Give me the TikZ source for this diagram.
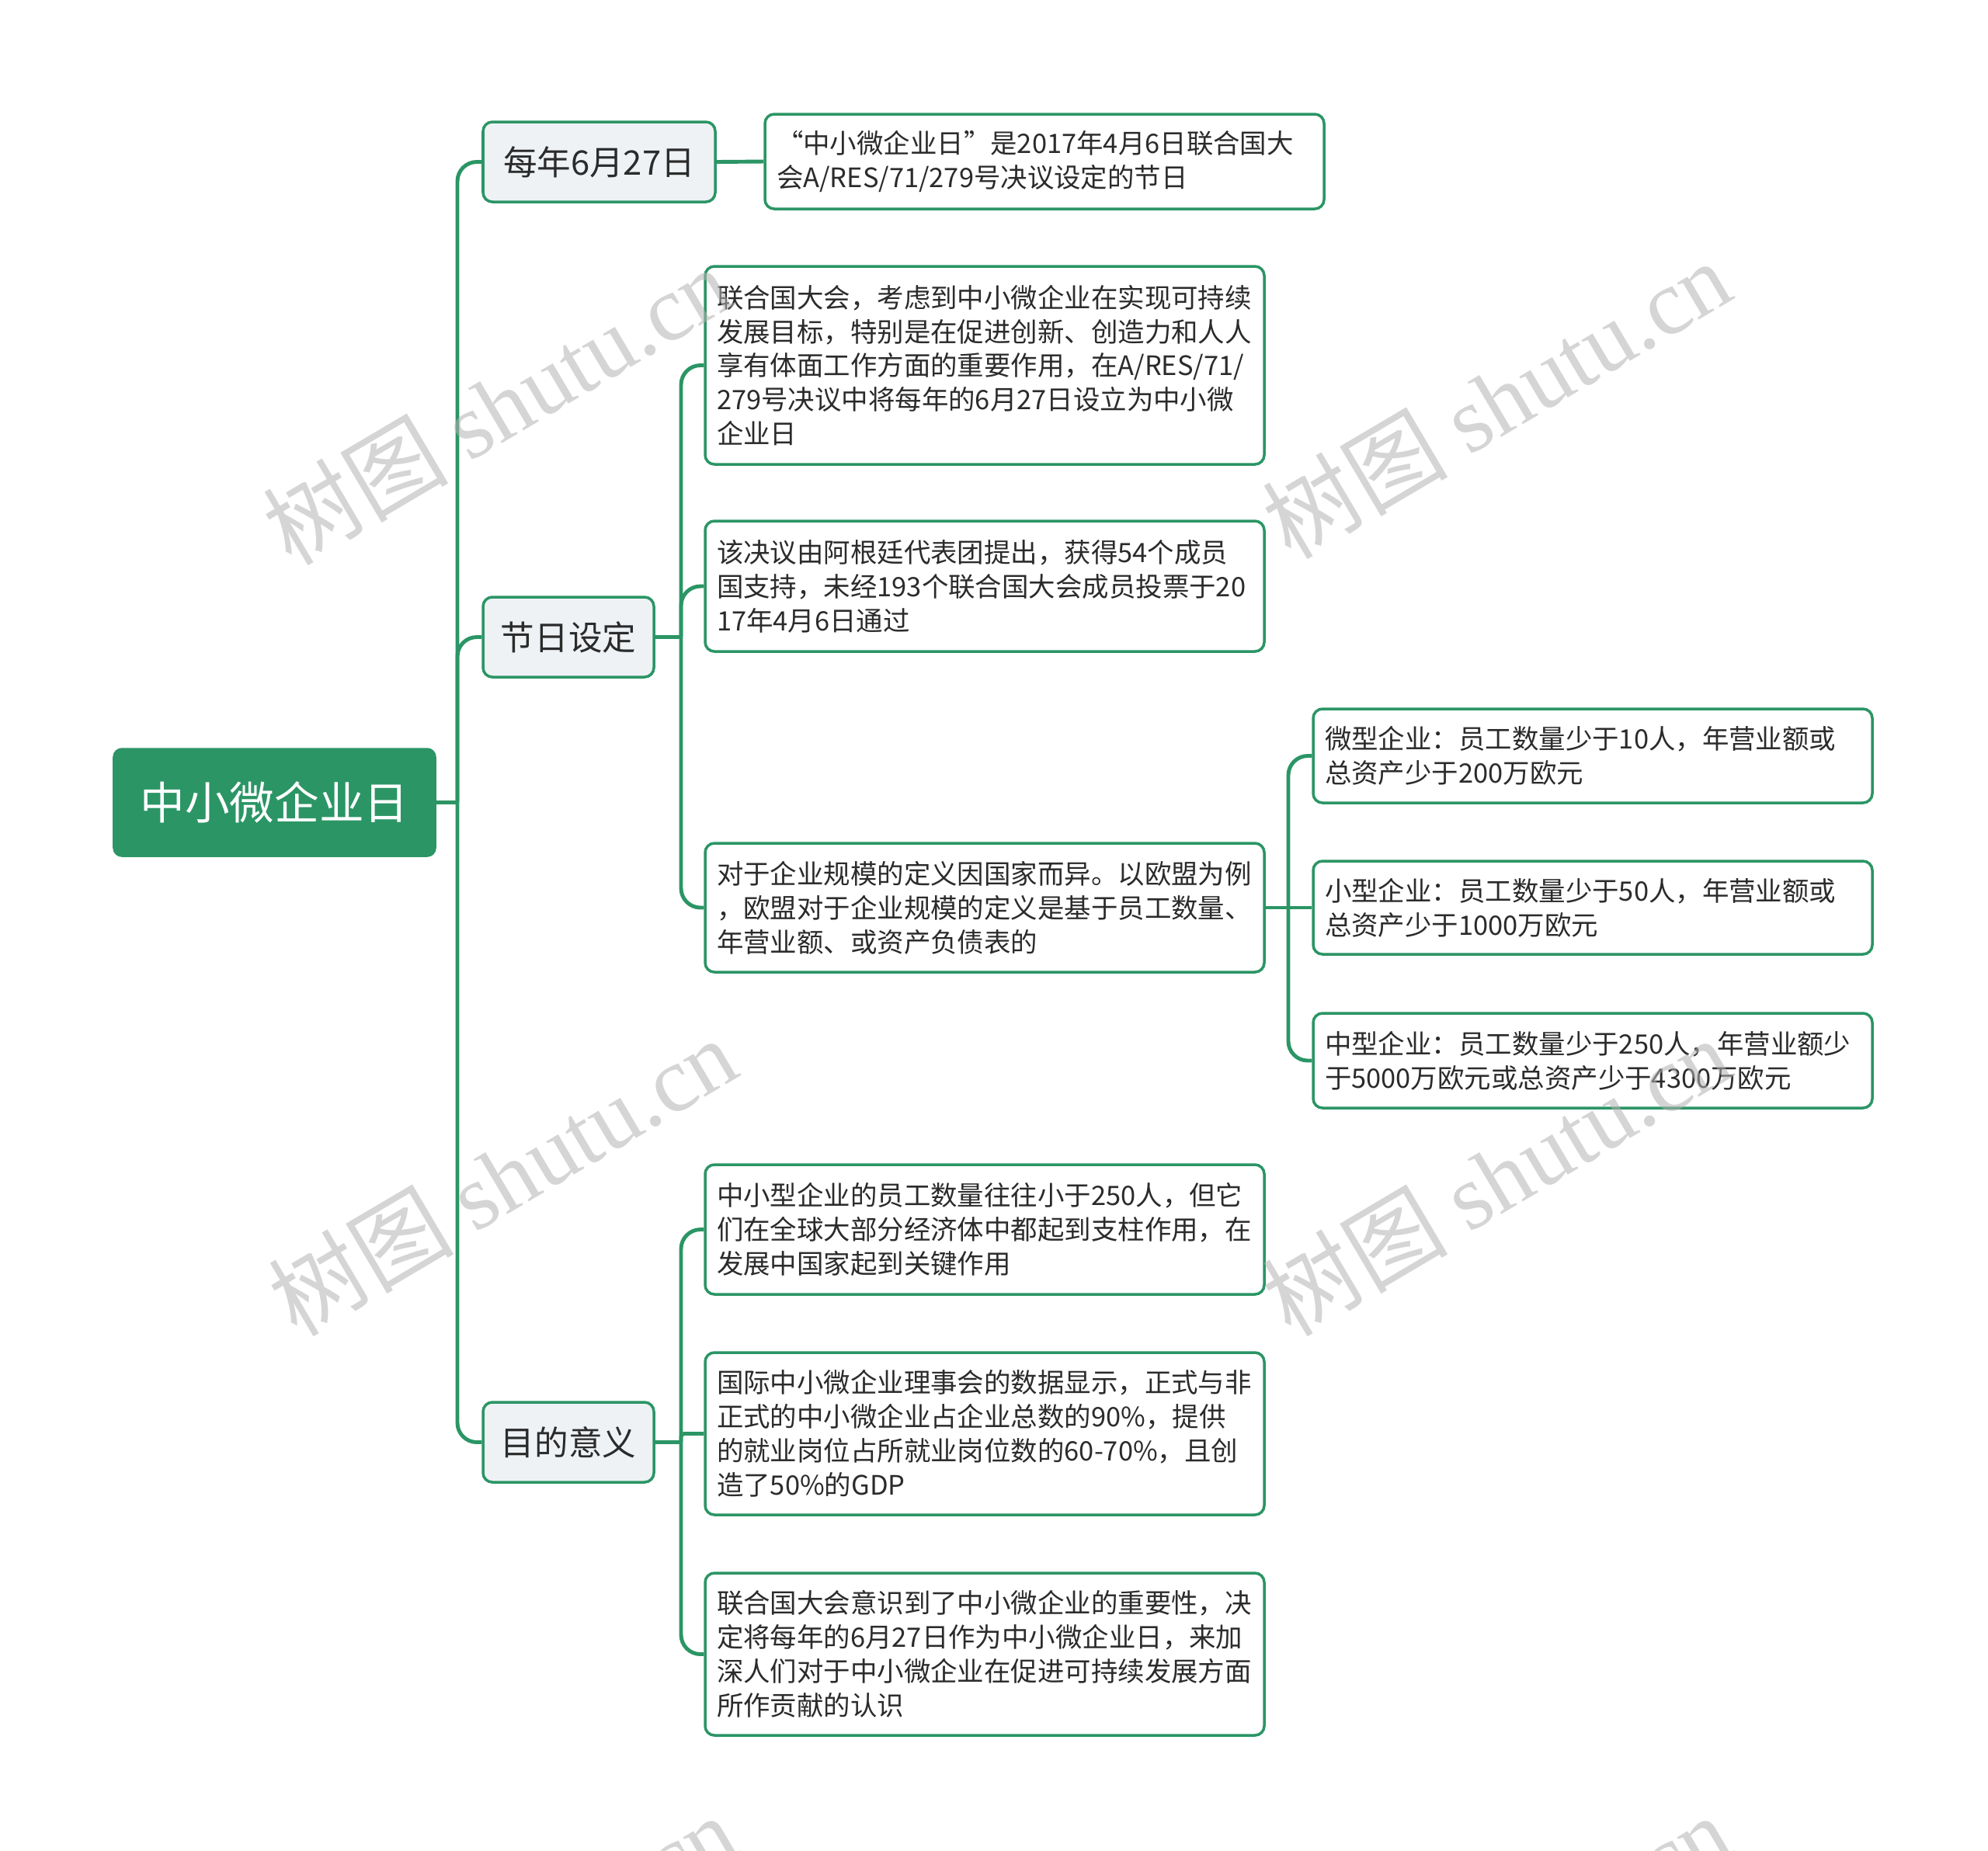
\documentclass[tikz,border=0pt]{standalone}
\usepackage{fontspec}
\setmainfont{Noto Sans CJK SC}
\newfontfamily\wmserif{Liberation Serif}
\definecolor{mgreen}{HTML}{2B9565}
\definecolor{lone}{HTML}{EEF2F5}
\definecolor{txt}{HTML}{2B2B2B}
\tikzset{
 rootbox/.style={draw=mgreen, fill=mgreen, rounded corners=0.1cm, text=white, font=\fontsize{16.4pt}{20pt}\selectfont, line width=1pt, minimum width=4.13cm, minimum height=1.37cm, inner sep=0pt},
 lonebox/.style={draw=mgreen, fill=lone, rounded corners=0.12cm, font=\fontsize{12.4pt}{15pt}\selectfont, line width=1pt, text=txt, minimum height=1.03cm, inner sep=0pt},
 leaf/.style={draw=mgreen, fill=white, rounded corners=0.12cm, font=\fontsize{9.8pt}{12.5pt}\selectfont, line width=1pt, align=left, text width=6.9cm, inner xsep=0.15cm, inner ysep=0pt, minimum width=7.2cm, text=txt},
 conn/.style={draw=mgreen, line width=1.4pt, rounded corners=0.25cm},
 wm/.style={text=black!30, opacity=0.55, rotate=30.6, font=\fontsize{34pt}{40pt}\selectfont, inner sep=0pt}
}
\begin{document}
\begin{tikzpicture}[y=-1cm]
\useasboundingbox (0,0) rectangle (25.6,23.83);
% root
\node[rootbox] (root) at (3.535,10.335) {中小微企业日};
% level 1
\node[lonebox, minimum width=2.99cm] (la) at (7.715,2.085) {每年6月27日};
\node[lonebox, minimum width=2.20cm] (lb) at (7.32,8.205) {节日设定};
\node[lonebox, minimum width=2.20cm] (lc) at (7.32,18.575) {目的意义};
% level 2
\node[leaf, minimum height=1.22cm] (a1) at (13.45,2.08) {“中小微企业日”是2017年4月6日联合国大\\会A/RES/71/279号决议设定的节日};
\node[leaf, minimum height=2.55cm] (b1) at (12.68,4.705) {联合国大会，考虑到中小微企业在实现可持续\\发展目标，特别是在促进创新、创造力和人人\\享有体面工作方面的重要作用，在A/RES/71/\\279号决议中将每年的6月27日设立为中小微\\企业日};
\node[leaf, minimum height=1.68cm] (b2) at (12.68,7.55) {该决议由阿根廷代表团提出，获得54个成员\\国支持，未经193个联合国大会成员投票于20\\17年4月6日通过};
\node[leaf, minimum height=1.66cm] (b3) at (12.68,11.69) {对于企业规模的定义因国家而异。以欧盟为例\\，欧盟对于企业规模的定义是基于员工数量、\\年营业额、或资产负债表的};
\node[leaf, minimum height=1.67cm] (c1) at (12.68,15.835) {中小型企业的员工数量往往小于250人，但它\\们在全球大部分经济体中都起到支柱作用，在\\发展中国家起到关键作用};
\node[leaf, minimum height=2.09cm] (c2) at (12.68,18.465) {国际中小微企业理事会的数据显示，正式与非\\正式的中小微企业占企业总数的90\%，提供\\的就业岗位占所就业岗位数的60-70\%，且创\\造了50\%的GDP};
\node[leaf, minimum height=2.09cm] (c3) at (12.68,21.305) {联合国大会意识到了中小微企业的重要性，决\\定将每年的6月27日作为中小微企业日，来加\\深人们对于中小微企业在促进可持续发展方面\\所作贡献的认识};
% level 3
\node[leaf, minimum height=1.21cm] (d1) at (20.51,9.735) {微型企业：员工数量少于10人，年营业额或\\总资产少于200万欧元};
\node[leaf, minimum height=1.20cm] (d2) at (20.51,11.69) {小型企业：员工数量少于50人，年营业额或\\总资产少于1000万欧元};
\node[leaf, minimum height=1.22cm] (d3) at (20.51,13.66) {中型企业：员工数量少于250人，年营业额少\\于5000万欧元或总资产少于4300万欧元};
% connectors
\coordinate (t0) at (5.89,10.335);
\draw[conn] (root.east) -- (t0);
\draw[conn] (t0) |- (la.west);
\draw[conn] (t0) |- (lb.west);
\draw[conn] (t0) |- (lc.west);
\draw[conn] (la.east) -- (a1.west);
\coordinate (t1) at (8.77,8.205);
\draw[conn] (lb.east) -- (t1);
\draw[conn] (t1) |- (b1.west);
\draw[conn] (t1) |- (b2.west);
\draw[conn] (t1) |- (b3.west);
\coordinate (t2) at (8.77,18.575);
\draw[conn] (lc.east) -- (t2);
\draw[conn] (t2) |- (c1.west);
\draw[conn, rounded corners=0.04cm] (t2) |- (c2.west);
\draw[conn] (t2) |- (c3.west);
\coordinate (t3) at (16.59,11.69);
\draw[conn] (b3.east) -- (t3);
\draw[conn] (t3) |- (d1.west);
\draw[conn] (t3) -- (d2.west);
\draw[conn] (t3) |- (d3.west);
% watermarks
\node[wm] (w1) at (6.40,5.22) {树图 {\wmserif shutu.cn}};
\node[wm] (w2) at (19.27,5.14) {树图 {\wmserif shutu.cn}};
\node[wm] (w3) at (6.47,15.15) {树图 {\wmserif shutu.cn}};
\node[wm] (w4) at (19.27,15.15) {树图 {\wmserif shutu.cn}};
\node[wm] (w5) at (6.47,25.16) {树图 {\wmserif shutu.cn}};
\node[wm] (w6) at (19.27,25.16) {树图 {\wmserif shutu.cn}};
\end{tikzpicture}
\end{document}
